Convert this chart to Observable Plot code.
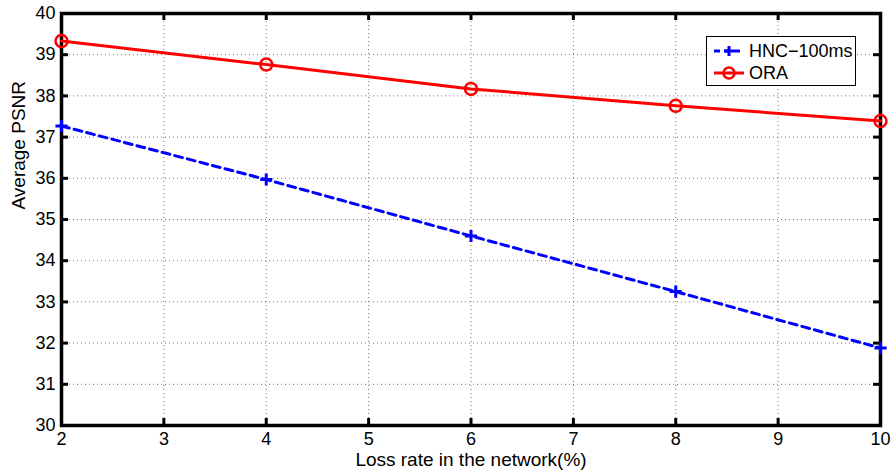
<!DOCTYPE html>
<html>
<head>
<meta charset="utf-8">
<script src="https://cdn.jsdelivr.net/npm/d3@7"></script>
<script src="https://cdn.jsdelivr.net/npm/@observablehq/plot@0.6"></script>
<style>
  body { margin: 0; background: #fff; }
  #wrap { position: relative; width: 893px; height: 476px; font-family: "Liberation Sans", Arial, Helvetica, sans-serif; }
  #legend { position: absolute; left: 706px; top: 36px; width: 150px; height: 50px; border: 1px solid #000; background: #fff; box-sizing: border-box; }
  .row { position: absolute; left: 0; height: 22px; display: flex; align-items: center; font-size: 18px; color: #000; }
  .row svg { margin-left: 6px; margin-right: 4px; }
</style>
</head>
<body>
<div id="wrap"></div>
<script>
const lossRates = [2, 4, 6, 8, 10];
const hncValues = [37.27, 35.97, 34.60, 33.25, 31.88];
const oraValues = [39.33, 38.76, 38.17, 37.76, 37.39];
const seriesNames = ["HNC\u2212100ms", "ORA"];
const xTicks = [2, 3, 4, 5, 6, 7, 8, 9, 10];
const yTicks = [30, 31, 32, 33, 34, 35, 36, 37, 38, 39, 40];
const xLabel = "Loss rate in the network(%)";
const yLabel = "Average PSNR";

const hnc = lossRates.map((x, i) => ({x, y: hncValues[i]}));
const ora = lossRates.map((x, i) => ({x, y: oraValues[i]}));

const W = 893, H = 476, mL = 61, mR = 13, mT = 13, mB = 51;
const plotH = H - mT - mB;
const plotW = W - mL - mR;
const tickLen = 7;
const innerX = xTicks.slice(1, -1);
const innerY = yTicks.slice(1, -1);

const chart = Plot.plot({
  width: W, height: H,
  marginLeft: mL, marginRight: mR, marginTop: mT, marginBottom: mB,
  style: {fontFamily: "'Liberation Sans', Arial, Helvetica, sans-serif", fontSize: "18px", color: "#000", background: "#fff"},
  x: {domain: [2, 10], ticks: xTicks},
  y: {domain: [30, 40], ticks: yTicks},
  marks: [
    Plot.ruleX(innerX, {x: d => d, stroke: "#777", strokeDasharray: "1,3", strokeWidth: 1}),
    Plot.ruleY(innerY, {y: d => d, stroke: "#777", strokeDasharray: "1,3", strokeWidth: 1}),
    Plot.tickX(xTicks, {x: d => d, insetTop: plotH - tickLen, stroke: "#000", strokeWidth: 3}),
    Plot.tickX(xTicks, {x: d => d, insetBottom: plotH - tickLen, stroke: "#000", strokeWidth: 3}),
    Plot.tickY(yTicks, {y: d => d, insetRight: plotW - tickLen, stroke: "#000", strokeWidth: 3}),
    Plot.tickY(yTicks, {y: d => d, insetLeft: plotW - tickLen, stroke: "#000", strokeWidth: 3}),
    Plot.axisX(xTicks, {tickSize: 0, tickPadding: 7, fontSize: 18, label: null}),
    Plot.axisY(yTicks, {tickSize: 0, tickPadding: 6, fontSize: 18, label: null}),
    Plot.frame({stroke: "#000", strokeWidth: 3.5}),
    Plot.line(hnc, {x: "x", y: "y", stroke: "#0000ff", strokeWidth: 3, strokeDasharray: "8,5"}),
    Plot.dot(hnc, {x: "x", y: "y", symbol: "plus", r: 4, stroke: "#0000ff", strokeWidth: 3}),
    Plot.line(ora, {x: "x", y: "y", stroke: "#ff0000", strokeWidth: 3}),
    Plot.dot(ora, {x: "x", y: "y", symbol: "circle", r: 6, stroke: "#ff0000", fill: "none", strokeWidth: 2.5}),
    Plot.text([yLabel], {frameAnchor: "left", dx: -43, dy: -10, rotate: -90, fontSize: 19, fill: "#000", style: "letter-spacing: 1.8px"}),
    Plot.text([xLabel], {frameAnchor: "bottom", dy: 40, fontSize: 19, fill: "#000", style: "letter-spacing: 0.8px"})
  ]
});

const wrap = document.getElementById("wrap");
wrap.appendChild(chart);

const legend = document.createElement("div");
legend.id = "legend";
const styles = [
  {stroke: "#0000ff", dash: "6,4", marker: "plus"},
  {stroke: "#ff0000", dash: null, marker: "circle"}
];
seriesNames.forEach((name, i) => {
  const s = styles[i];
  const row = document.createElement("div");
  row.className = "row";
  row.style.top = (3 + i * 22) + "px";
  const svg = d3.create("svg").attr("width", 32).attr("height", 16);
  svg.append("line").attr("x1", 1).attr("x2", 31).attr("y1", 8).attr("y2", 8)
    .attr("stroke", s.stroke).attr("stroke-width", 3).attr("stroke-dasharray", s.dash);
  if (s.marker === "plus") {
    svg.append("path").attr("d", "M11,8H21M16,3V13").attr("stroke", s.stroke).attr("stroke-width", 3);
  } else {
    svg.append("circle").attr("cx", 16).attr("cy", 8).attr("r", 5.5).attr("fill", "none")
      .attr("stroke", s.stroke).attr("stroke-width", 2.5);
  }
  row.appendChild(svg.node());
  const t = document.createElement("span");
  t.textContent = name;
  row.appendChild(t);
  legend.appendChild(row);
});
wrap.appendChild(legend);
</script>
</body>
</html>
